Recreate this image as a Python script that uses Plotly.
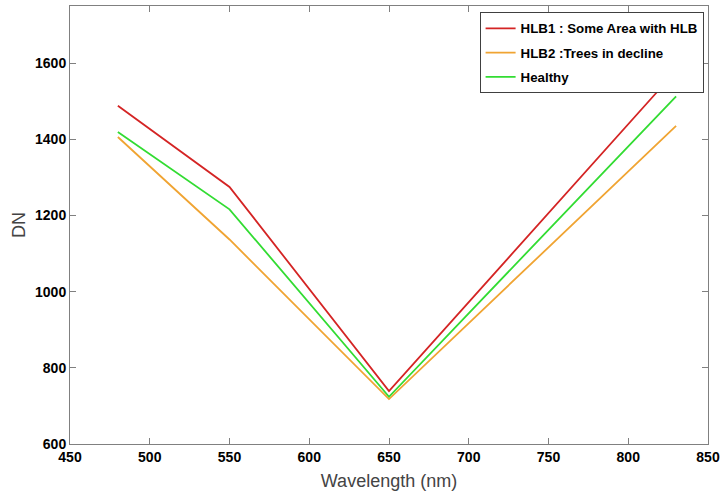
import plotly.graph_objects as go

wavelength = [480, 550, 650, 830]
hlb1 = [1488, 1275, 739, 1580]
hlb2 = [1406, 1137, 718, 1435]
healthy = [1419, 1216, 724, 1513]

names = ["HLB1 : Some Area with HLB", "HLB2 :Trees in decline", "Healthy"]
colors = ["#d42424", "#f0a432", "#32dc32"]

FONT = "Liberation Sans, Arial"

fig = go.Figure()
for i, (name, ys, c) in enumerate(zip(names, [hlb1, hlb2, healthy], colors)):
    fig.add_trace(go.Scatter(x=wavelength, y=ys, mode="lines", name=name,
                             legendgroup=f"g{i}",
                             line=dict(color=c, width=1.8)))

axis_common = dict(showgrid=False, zeroline=False, showline=True, linecolor="#808080",
                   linewidth=1, mirror="ticks", ticks="inside", ticklen=6,
                   tickcolor="#808080", automargin=False,
                   tickfont=dict(family=FONT, size=14, color="black", weight="bold"))

fig.update_xaxes(range=[450, 850], dtick=50, tick0=450,
                 title=dict(text="Wavelength (nm)", font=dict(family=FONT, size=18, color="#444"),
                            standoff=10),
                 **axis_common)
fig.update_yaxes(range=[600, 1750], tickvals=[600, 800, 1000, 1200, 1400, 1600],
                 title=dict(text="DN", font=dict(family=FONT, size=18, color="#444"),
                            standoff=4),
                 **axis_common)

fig.update_layout(
    width=722, height=497,
    margin=dict(l=70, r=14, t=6, b=53, autoexpand=False),
    plot_bgcolor="white", paper_bgcolor="white",
    legend=dict(x=0.642, y=0.986, xanchor="left", yanchor="top",
                bgcolor="white", bordercolor="#404040", borderwidth=1,
                font=dict(family=FONT, size=13.3, color="black", weight="bold"),
                tracegroupgap=4, itemwidth=30),
)

fig.write_html("out.html", config={"displayModeBar": False},
               post_script="document.body.style.margin='0';")
